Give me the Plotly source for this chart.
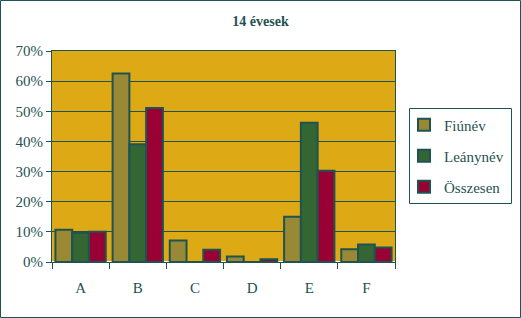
import plotly.graph_objects as go

categories = ["A", "B", "C", "D", "E", "F"]
fiu = [0.107, 0.625, 0.071, 0.018, 0.150, 0.042]
leany = [0.097, 0.391, 0.0, 0.0, 0.462, 0.058]
osszesen = [0.100, 0.511, 0.041, 0.009, 0.303, 0.048]
series_names = ["Fiúnév", "Leánynév", "Összesen"]
colors = ["#9A8934", "#336633", "#990033"]
ytick_vals = [0, 0.1, 0.2, 0.3, 0.4, 0.5, 0.6, 0.7]
ytick_text = ["0%", "10%", "20%", "30%", "40%", "50%", "60%", "70%"]

dark = "#1F5252"
W, H = 521, 318
L, R, T, B = 52, 126, 51, 56
pw, ph = W - L - R, H - T - B

fig = go.Figure()
legends = ["legend", "legend2", "legend3"]
for name, vals, col, lg in zip(series_names, [fiu, leany, osszesen], colors, legends):
    fig.add_trace(go.Bar(x=categories, y=vals, name=name, legend=lg,
                         marker=dict(color=col, line=dict(color=dark, width=2))))

font_fam = "Liberation Serif"
def px_x(px):
    return (px - L) / pw
def px_y(py):
    return (H - B - py) / ph

leg_common = dict(bgcolor="rgba(0,0,0,0)", borderwidth=0,
                  font=dict(family=font_fam, size=15, color=dark),
                  xanchor="left", yanchor="middle", itemwidth=30)
fig.update_layout(
    width=W, height=H,
    margin=dict(l=L, r=R, t=T, b=B),
    paper_bgcolor="white",
    plot_bgcolor="#DDA914",
    font=dict(family=font_fam, color=dark),
    barmode="group", bargap=0.12, bargroupgap=0,
    title=dict(text="<b>14 évesek</b>", x=0.5, xref="container", y=1 - 21 / H,
               yanchor="middle", font=dict(family=font_fam, size=14, color=dark)),
    xaxis=dict(tickson="boundaries", ticks="outside", ticklen=6, tickcolor=dark,
               showline=True, linecolor=dark, linewidth=1, mirror=True,
               tickfont=dict(family=font_fam, size=15, color=dark),
               showgrid=False, ticklabelstandoff=12),
    yaxis=dict(range=[0, 0.7], tickvals=ytick_vals, ticktext=ytick_text,
               ticks="outside", ticklen=5, tickcolor=dark,
               showline=True, linecolor=dark, linewidth=1, mirror=True,
               gridcolor=dark, gridwidth=1,
               tickfont=dict(family=font_fam, size=15, color=dark)),
    legend=dict(x=px_x(404), y=px_y(125), **leg_common),
    legend2=dict(x=px_x(404), y=px_y(156), **leg_common),
    legend3=dict(x=px_x(404), y=px_y(187), **leg_common),
    showlegend=True,
)

# legend box
fig.add_shape(type="rect", xref="paper", yref="paper",
              x0=px_x(409.5), x1=px_x(511.5), y0=px_y(108.5), y1=px_y(203.5),
              line=dict(color=dark, width=1), fillcolor="rgba(0,0,0,0)")
# outer border
fig.add_shape(type="rect", xref="paper", yref="paper",
              x0=px_x(0.5), x1=px_x(520.5), y0=px_y(0.5), y1=px_y(317.5),
              line=dict(color=dark, width=1), fillcolor="rgba(0,0,0,0)")

fig.write_html("out.html")
